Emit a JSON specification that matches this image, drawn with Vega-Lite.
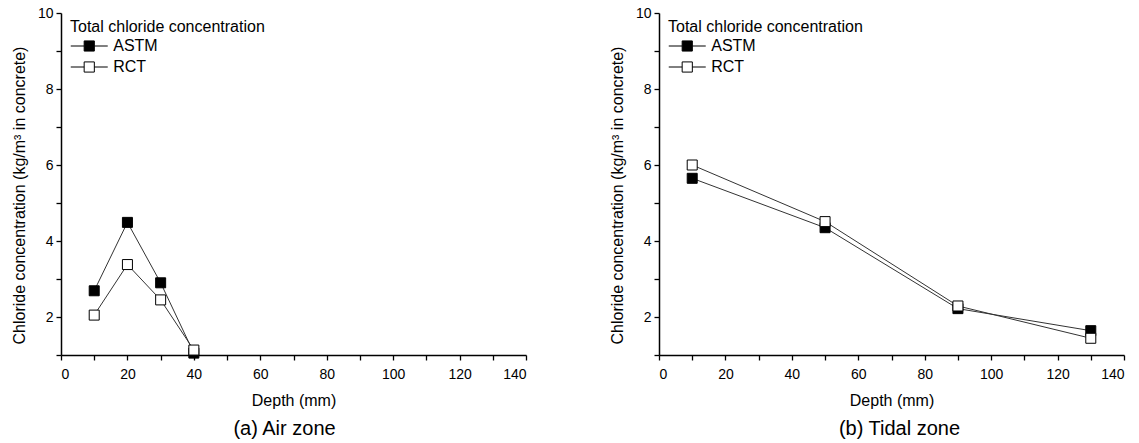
{
  "$schema": "https://vega.github.io/schema/vega-lite/v6.json",
  "padding": {"left": 11, "top": 6, "right": 4, "bottom": 4},
  "bounds": "flush",
  "spacing": 133,
  "config": {
    "font": "Liberation Sans",
    "view": {"stroke": null},
    "axis": {
      "grid": false,
      "domainColor": "black",
      "domainWidth": 1.5,
      "tickColor": "black",
      "tickWidth": 1.3,
      "tickSize": 5,
      "tickCount": 30,
      "labelFontSize": 14,
      "labelColor": "black",
      "labelOverlap": false,
      "labelFont": "Liberation Sans",
      "titleFont": "Liberation Sans",
      "titleFontSize": 16,
      "titleFontWeight": "normal",
      "titleColor": "black"
    },
    "legend": {
      "titleFont": "Liberation Sans",
      "labelFont": "Liberation Sans"
    }
  },
  "data": {
    "values": [
      {"zone": "air", "series": "ASTM", "depth": 10, "value": 2.69},
      {"zone": "air", "series": "ASTM", "depth": 20, "value": 4.49},
      {"zone": "air", "series": "ASTM", "depth": 30, "value": 2.9},
      {"zone": "air", "series": "ASTM", "depth": 40, "value": 1.05},
      {"zone": "air", "series": "RCT", "depth": 10, "value": 2.05},
      {"zone": "air", "series": "RCT", "depth": 20, "value": 3.38},
      {"zone": "air", "series": "RCT", "depth": 30, "value": 2.45},
      {"zone": "air", "series": "RCT", "depth": 40, "value": 1.13},
      {"zone": "tidal", "series": "ASTM", "depth": 10, "value": 5.65},
      {"zone": "tidal", "series": "ASTM", "depth": 50, "value": 4.35},
      {"zone": "tidal", "series": "ASTM", "depth": 90, "value": 2.22},
      {"zone": "tidal", "series": "ASTM", "depth": 130, "value": 1.64},
      {"zone": "tidal", "series": "RCT", "depth": 10, "value": 6.0},
      {"zone": "tidal", "series": "RCT", "depth": 50, "value": 4.51},
      {"zone": "tidal", "series": "RCT", "depth": 90, "value": 2.29},
      {"zone": "tidal", "series": "RCT", "depth": 130, "value": 1.44}
    ]
  },
  "resolve": {"scale": {"fill": "independent"}, "legend": {"fill": "independent"}},
  "hconcat": [
    {
      "width": 465,
      "height": 342,
      "title": {"text": "(a) Air zone", "orient": "bottom", "fontSize": 20, "fontWeight": "normal", "font": "Liberation Sans", "color": "black", "offset": 11, "dx": -9},
      "transform": [{"filter": "datum.zone == 'air'"}],
      "layer": [
        {
          "mark": {"type": "line", "color": "#333333", "strokeWidth": 1},
          "encoding": {
            "x": {"field": "depth", "type": "quantitative", "scale": {"domain": [0, 140], "nice": false}, "axis": {"title": "Depth (mm)", "values": [0,10,20,30,40,50,60,70,80,90,100,110,120,130,140], "tickCount": 30, "format": "d", "labelExpr": "datum.value % 20 == 0 ? datum.label : ''", "labelPadding": 7, "titlePadding": 11}},
            "y": {"field": "value", "type": "quantitative", "scale": {"domain": [1, 10], "nice": false, "zero": false}, "axis": {"title": "Chloride concentration (kg/m³ in concrete)", "values": [1,2,3,4,5,6,7,8,9,10], "tickCount": 30, "format": "d", "labelExpr": "datum.value % 2 == 0 ? datum.label : ''", "labelPadding": 3, "titlePadding": 10, "titleY": 182}},
            "detail": {"field": "series"}
          }
        },
        {
          "mark": {"type": "point", "shape": "square", "size": 100, "filled": true, "stroke": "black", "strokeWidth": 1, "opacity": 1},
          "encoding": {
            "x": {"field": "depth", "type": "quantitative"},
            "y": {"field": "value", "type": "quantitative"},
            "fill": {"field": "series", "type": "nominal", "scale": {"domain": ["ASTM", "RCT"], "range": ["black", "white"]},
              "legend": {"title": "Total chloride concentration", "orient": "none", "legendX": 9, "legendY": 6, "padding": 0, "titleFontSize": 16, "titleFontWeight": "normal", "titleColor": "black", "titlePadding": 1, "titleLimit": 500, "labelLimit": 300, "labelFontSize": 16, "labelColor": "black", "labelOffset": 14, "rowPadding": 3, "symbolOffset": 9.25, "symbolType": "M-2,0H-0.55M-0.55,-0.55H0.55V0.55H-0.55ZM0.55,0H2", "symbolSize": 342, "symbolStrokeColor": "black", "symbolStrokeWidth": 1, "symbolOpacity": 1}}
          }
        }
      ]
    },
    {
      "width": 465,
      "height": 342,
      "title": {"text": "(b) Tidal zone", "orient": "bottom", "fontSize": 20, "fontWeight": "normal", "font": "Liberation Sans", "color": "black", "offset": 11, "dx": 8},
      "transform": [{"filter": "datum.zone == 'tidal'"}],
      "layer": [
        {
          "mark": {"type": "line", "color": "#333333", "strokeWidth": 1},
          "encoding": {
            "x": {"field": "depth", "type": "quantitative", "scale": {"domain": [0, 140], "nice": false}, "axis": {"title": "Depth (mm)", "values": [0,10,20,30,40,50,60,70,80,90,100,110,120,130,140], "tickCount": 30, "format": "d", "labelExpr": "datum.value % 20 == 0 ? datum.label : ''", "labelPadding": 7, "titlePadding": 11}},
            "y": {"field": "value", "type": "quantitative", "scale": {"domain": [1, 10], "nice": false, "zero": false}, "axis": {"title": "Chloride concentration (kg/m³ in concrete)", "values": [1,2,3,4,5,6,7,8,9,10], "tickCount": 30, "format": "d", "labelExpr": "datum.value % 2 == 0 ? datum.label : ''", "labelPadding": 3, "titlePadding": 10, "titleY": 182}},
            "detail": {"field": "series"}
          }
        },
        {
          "mark": {"type": "point", "shape": "square", "size": 100, "filled": true, "stroke": "black", "strokeWidth": 1, "opacity": 1},
          "encoding": {
            "x": {"field": "depth", "type": "quantitative"},
            "y": {"field": "value", "type": "quantitative"},
            "fill": {"field": "series", "type": "nominal", "scale": {"domain": ["ASTM", "RCT"], "range": ["black", "white"]},
              "legend": {"title": "Total chloride concentration", "orient": "none", "legendX": 9, "legendY": 6, "padding": 0, "titleFontSize": 16, "titleFontWeight": "normal", "titleColor": "black", "titlePadding": 1, "titleLimit": 500, "labelLimit": 300, "labelFontSize": 16, "labelColor": "black", "labelOffset": 14, "rowPadding": 3, "symbolOffset": 9.25, "symbolType": "M-2,0H-0.55M-0.55,-0.55H0.55V0.55H-0.55ZM0.55,0H2", "symbolSize": 342, "symbolStrokeColor": "black", "symbolStrokeWidth": 1, "symbolOpacity": 1}}
          }
        }
      ]
    }
  ]
}
